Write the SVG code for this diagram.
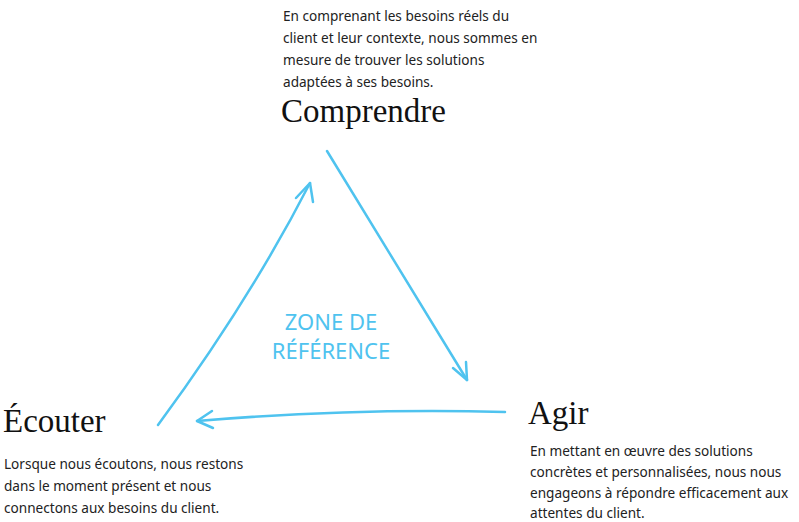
<svg xmlns="http://www.w3.org/2000/svg" width="799" height="522" viewBox="0 0 799 522">
<style>
.t{font-family:"Noto Sans","Liberation Sans",sans-serif;font-size:13.6px;fill:#222}
.h{font-family:"Liberation Serif",serif;font-size:33px;fill:#111}
.c{fill:none;stroke:#4fc3ef;stroke-width:2.5;stroke-linecap:round;stroke-linejoin:round}
.z{font-family:"Noto Sans","Liberation Sans",sans-serif;font-size:22px;fill:#4fc3ef;text-anchor:middle}
</style>
<rect width="799" height="522" fill="#fff"/>
<g id="comprendre">
<text class="t" x="283" y="21">En comprenant les besoins réels du</text>
<text class="t" x="283" y="43">client et leur contexte, nous sommes en</text>
<text class="t" x="283" y="65">mesure de trouver les solutions</text>
<text class="t" x="283" y="87">adaptées à ses besoins.</text>
<text class="h" x="281" y="122">Comprendre</text>
</g>
<g id="ecouter">
<text class="h" x="3" y="432">Écouter</text>
<text class="t" x="4" y="469">Lorsque nous écoutons, nous restons</text>
<text class="t" x="4" y="491">dans le moment présent et nous</text>
<text class="t" x="4" y="513">connectons aux besoins du client.</text>
</g>
<g id="agir">
<text class="h" x="528" y="424">Agir</text>
<text class="t" x="530" y="456">En mettant en œuvre des solutions</text>
<text class="t" x="530" y="477">concrètes et personnalisées, nous nous</text>
<text class="t" x="530" y="498">engageons à répondre efficacement aux</text>
<text class="t" x="530" y="518">attentes du client.</text>
</g>
<g id="zone">
<text class="z" x="331" y="330">ZONE DE</text>
<text class="z" x="331" y="359">RÉFÉRENCE</text>
</g>
<g id="connectors">
<path class="c" d="M158 425 Q250 300 310 183"/>
<path class="c" d="M296 198 L310 183 L313 202"/>
<path class="c" d="M327 151 Q400 270 467 380"/>
<path class="c" d="M453 368 L467 380 L466 362"/>
<path class="c" d="M505 412 Q350 408 197 421"/>
<path class="c" d="M212 411 L197 421 L213 428"/>
</g>
</svg>
